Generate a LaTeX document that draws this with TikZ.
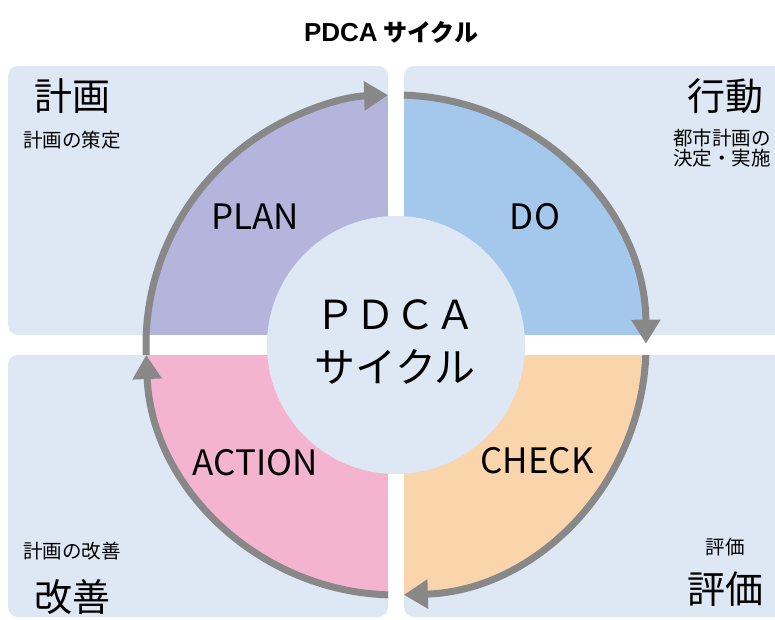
\documentclass[tikz,border=0pt]{standalone}
\usepackage{fontspec}
\setmainfont{Noto Sans CJK JP}
\newfontfamily\titlelatin{Liberation Sans}
\usetikzlibrary{arrows.meta}
\definecolor{panelbg}{RGB}{222,232,244}
\definecolor{plancol}{RGB}{180,180,220}
\definecolor{docol}{RGB}{164,200,236}
\definecolor{checkcol}{RGB}{250,212,170}
\definecolor{actcol}{RGB}{244,180,208}
\definecolor{arrowgray}{RGB}{136,136,136}
\tikzset{x=1pt, y=1pt, % one unit is one pixel of the reference
panel/.style={fill=panelbg, rounded corners=10pt}, % the four quarter panels
cyclearrow/.style={draw=arrowgray, line width=7pt, -{Triangle[length=24pt,width=28pt]}}, % grey arcs round the ring
bigword/.style={font=\fontsize{38}{40}\selectfont, inner sep=0pt}, % large corner words
smallword/.style={font=\fontsize{19.5}{21}\selectfont, inner sep=0pt}, % small corner notes
ringword/.style={font=\fontsize{35}{36}\selectfont, inner sep=0pt}, % PLAN, DO, ...
}

\begin{document}
\begin{tikzpicture}
\clip (0,0) rectangle (775,619);
\fill[white] (0,0) rectangle (775,619);
% panels
\fill[panel] (8,284) rectangle (388,553);
\fill[panel] (404,284) rectangle (800,553);
\fill[panel] (8,2) rectangle (388,264);
\fill[panel] (404,2) rectangle (800,264);
\coordinate (C) at (396,274);
% ring quarters
\begin{scope}[shift={(C)}]
\fill[plancol] (0,0) -- (180:250) arc[start angle=180, end angle=90, radius=250] -- cycle;
\fill[docol] (0,0) -- (90:250) arc[start angle=90, end angle=0, radius=250] -- cycle;
\fill[checkcol] (0,0) -- (0:250) arc[start angle=0, end angle=-90, radius=250] -- cycle;
\fill[actcol] (0,0) -- (-90:250) arc[start angle=-90, end angle=-180, radius=250] -- cycle;
\fill[white] (-8,-300) rectangle (8,300);
\fill[white] (-400,-10) rectangle (400,10);
\fill[panelbg] (0,0) circle[radius=129];
\draw[cyclearrow] (182.3:250) arc[start angle=182.3, end angle=91.8, radius=250];
\draw[cyclearrow] (88.2:250) arc[start angle=88.2, end angle=0.3, radius=250];
\draw[cyclearrow] (-2.3:250) arc[start angle=-2.3, end angle=-88.2, radius=250];
\draw[cyclearrow] (-91.8:250) arc[start angle=-91.8, end angle=-177.7, radius=250];
\end{scope}
% texts
\node[font=\bfseries\fontsize{24}{26}\selectfont] (title) at (391,587) {{\titlelatin\fontsize{26}{28}\selectfont PDCA} サイクル};
\node[bigword] (plan-big) at (72,523) {計画};
\node[smallword] (plan-note) at (72,479) {計画の策定};
\node[bigword] (do-big) at (725,523) {行動};
\node[smallword, anchor=north west, align=left, font=\fontsize{19.5}{20}\selectfont] (do-note) at (673,490) {都市計画の\\決定・実施};
\node[smallword] (act-note) at (72,68) {計画の改善};
\node[bigword] (act-big) at (72,22) {改善};
\node[smallword] (check-note) at (725,72) {評価};
\node[bigword] (check-big) at (725,30) {評価};
\node[ringword] (plan) at (255,402) {PLAN};
\node[ringword] (do) at (535,402) {DO};
\node[ringword] (action) at (255,156) {ACTION};
\node[ringword] (check) at (537,158) {CHECK};
\node[font=\fontsize{40}{42}\selectfont, inner sep=0pt] (pdca) at (395,304) {ＰＤＣＡ};
\node[font=\fontsize{41}{42}\selectfont, inner sep=0pt] (cycle) at (395,252) {サイクル};
\end{tikzpicture}
\end{document}
